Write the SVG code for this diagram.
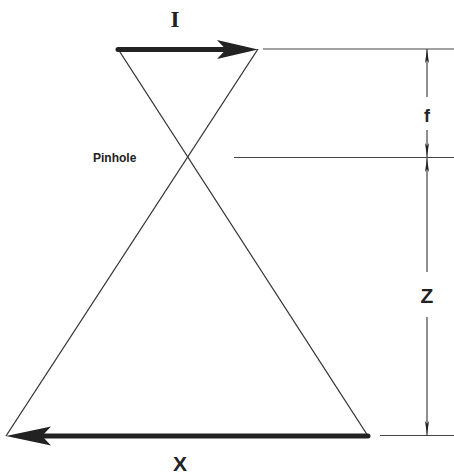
<svg xmlns="http://www.w3.org/2000/svg" width="454" height="475" viewBox="0 0 454 475">
<style>
.thin{stroke:#333;stroke-width:1.3;fill:none}
.ext{stroke:#444;stroke-width:1.2;fill:none}
.thick{stroke:#222;stroke-width:5;fill:none;stroke-linecap:round}
.head{fill:#222}
.lbl{font-family:"Liberation Sans",Arial,sans-serif;fill:#222}
</style>
<defs>
<marker id="dim" viewBox="0 0 14 7" markerWidth="14" markerHeight="7" refX="14" refY="3.5" orient="auto" markerUnits="userSpaceOnUse">
<path d="M0,1.5 L14,3.5 L0,5.5 L3,3.5 Z" fill="#222"/>
</marker>
</defs>
<rect width="454" height="475" fill="#fff"/>
<g id="connectors">
<line class="thin" x1="118" y1="49" x2="368" y2="436"/>
<line class="thin" x1="258" y1="49" x2="6" y2="436"/>
<line class="ext" x1="263" y1="49" x2="454" y2="49"/>
<line class="ext" x1="234" y1="157.5" x2="454" y2="157.5"/>
<line class="ext" x1="380" y1="435.5" x2="454" y2="435.5"/>
<line class="ext" x1="427" y1="97" x2="427" y2="49" marker-end="url(#dim)"/>
<line class="ext" x1="427" y1="130" x2="427" y2="157" marker-end="url(#dim)"/>
<line class="ext" x1="427" y1="272" x2="427" y2="158" marker-end="url(#dim)"/>
<line class="ext" x1="427" y1="317" x2="427" y2="435" marker-end="url(#dim)"/>
</g>
<g id="image-arrow">
<line class="thick" x1="118" y1="49.5" x2="230" y2="49.5"/>
<path class="head" d="M258,49.5 L217,40 L226,49.5 L217,59 Z"/>
</g>
<g id="object-arrow">
<line class="thick" x1="368" y1="436" x2="40" y2="436"/>
<path class="head" d="M6,436 L51,426.5 L42,436 L51,445.5 Z"/>
</g>
<g id="label-I"><text x="175" y="27" text-anchor="middle" style="font-family:'Liberation Serif',serif;fill:#222" font-size="23" font-weight="bold">I</text></g>
<g id="label-X"><text class="lbl" x="180" y="471" text-anchor="middle" font-size="21" font-weight="bold">X</text></g>
<g id="label-pinhole"><text class="lbl" x="93" y="162" font-size="12" font-weight="bold">Pinhole</text></g>
<g id="label-f"><text class="lbl" x="427" y="122" text-anchor="middle" font-size="18" font-weight="bold">f</text></g>
<g id="label-Z"><text class="lbl" x="427" y="303" text-anchor="middle" font-size="21" font-weight="bold">Z</text></g>
</svg>
